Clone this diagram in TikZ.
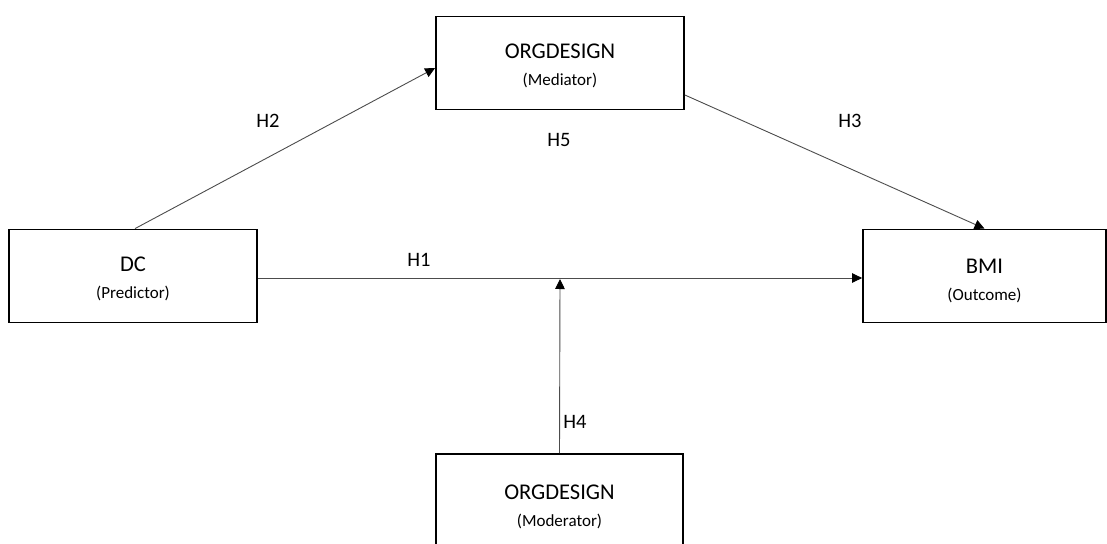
\documentclass[tikz,border=0pt]{standalone}
\usepackage{fontspec}
\setmainfont{Carlito}
\usetikzlibrary{arrows.meta}
\begin{document}
\begin{tikzpicture}[x=1pt,y=-1pt,
  box/.style={draw=black, line width=1.8pt, minimum width=#1, inner sep=0pt},
  boxlabel/.style={align=center, inner sep=0pt},
  conn/.style={draw=black!70, line width=0.9pt, -{Triangle[width=9.5pt,length=10pt,color=black]}},
  hyp/.style={font=\fontsize{20.5}{22}\selectfont, inner sep=0pt},
]
\useasboundingbox (0,0) rectangle (1107,543);
\clip (0,0) rectangle (1107,543);
\newcommand{\boxtext}[2]{{\fontsize{22.5}{24}\selectfont #1}\\[14pt]{\fontsize{17}{18}\selectfont #2}}
\node[box=248pt, minimum height=93pt] (med) at (560,63) {};
\node[box=248pt, minimum height=93pt] (dc) at (133,276) {};
\node[box=243pt, minimum height=93pt] (bmi) at (984.5,276) {};
\node[box=247pt, minimum height=104pt] (mod) at (559.5,506) {};
\node[boxlabel] (medt) at (560,66) {\boxtext{ORGDESIGN}{(Mediator)}};
\node[boxlabel] (dct) at (133,279) {\boxtext{DC}{(Predictor)}};
\node[boxlabel] (bmit) at (984.5,281) {\boxtext{BMI}{(Outcome)}};
\node[boxlabel] (modt) at (559.5,507) {\boxtext{ORGDESIGN}{(Moderator)}};
\coordinate (h1mid) at (560,279);
\draw[conn] (dc.north) ++(2,0) coordinate (dcn) -- (med.west |- 0,68);
\draw[conn] (med.east |- 0,95) -- (bmi.north);
\draw[conn] (dc.east |- 0,278) -- (bmi.west |- 0,278);
\draw[conn] (mod.north) -- (h1mid);
\node[hyp] (h2) at (268,121) {H2};
\node[hyp] (h5) at (559,140) {H5};
\node[hyp] (h3) at (850,121) {H3};
\node[hyp] (h1) at (419,260) {H1};
\node[hyp] (h4) at (575,422) {H4};
\end{tikzpicture}
\end{document}
